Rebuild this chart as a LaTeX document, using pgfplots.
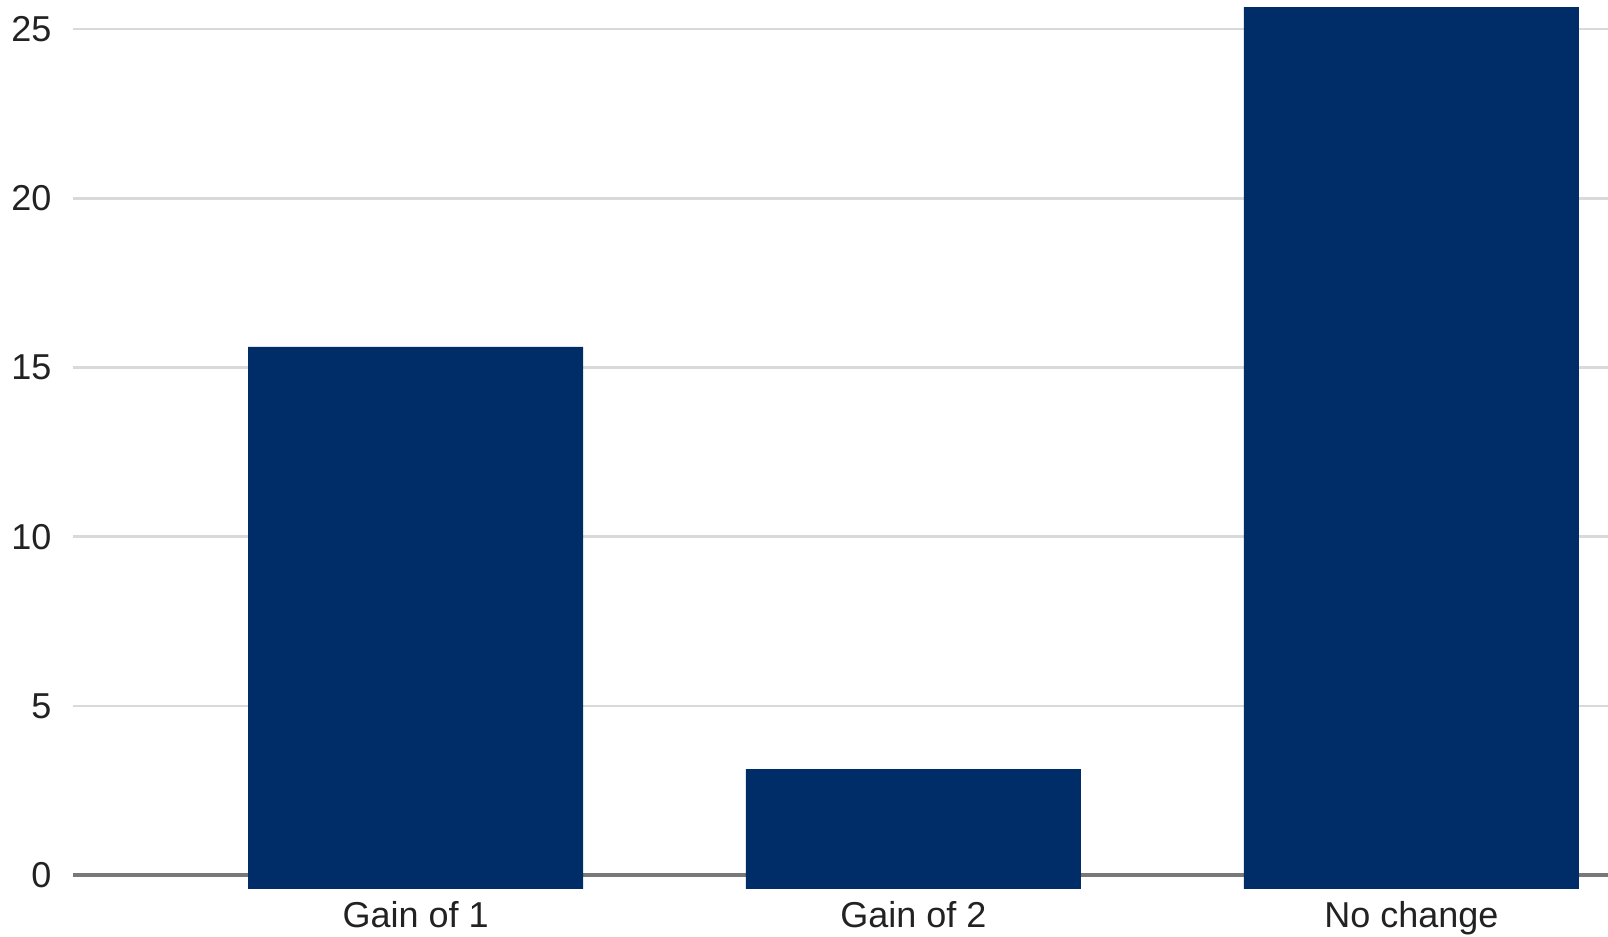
\documentclass[border=0pt]{standalone}
\usepackage{pgfplots}
\pgfplotsset{compat=1.18}
\usepackage{fontspec}
\setmainfont{Liberation Sans}
\definecolor{barblue}{RGB}{0,44,104}
\definecolor{gridgray}{RGB}{217,217,217}
\definecolor{basegray}{RGB}{120,120,120}
\definecolor{txt}{RGB}{34,34,34}
\begin{document}
\begin{tikzpicture}
  % fixed page: 1608x937 px at 0.3pt per px
  \path[use as bounding box] (-21.9pt,-14.4pt) rectangle (460.5pt,266.7pt);
  \begin{axis}[
    at={(0,0)}, anchor=south west,
    scale only axis,
    width=460.5pt, height=266.7pt,
    xmin=-0.688, xmax=2.395,
    ymin=-0.41, ymax=25.86,
    axis line style={draw=none},
    major tick length=0pt,
    xtick={0,1,2},
    xticklabels={Gain of 1, Gain of 2, No change},
    ytick={5,10,15,20,25},
    extra y ticks={0},
    extra y tick style={grid style={basegray, line width=1.2pt}},
    ymajorgrids,
    grid style={gridgray, line width=0.75pt},
    tick label style={font=\fontsize{10.8}{13}\selectfont, text=txt, inner sep=0pt},
    xticklabel style={anchor=north, yshift=-3.6pt},
    yticklabel style={anchor=east, xshift=-6.3pt},
    /pgf/number format/assume math mode=true,
    ybar, bar width=100.5pt, bar shift=0pt,
    clip=false,
  ]
  % bar heights
  \addplot[draw=none, fill=barblue] coordinates {(0,15.61) (1,3.13) (2,25.65)};
  % the bars reach a little below the zero line
  \addplot[draw=none, fill=barblue] coordinates {(0,-0.41) (1,-0.41) (2,-0.41)};
  \end{axis}
\end{tikzpicture}
\end{document}
